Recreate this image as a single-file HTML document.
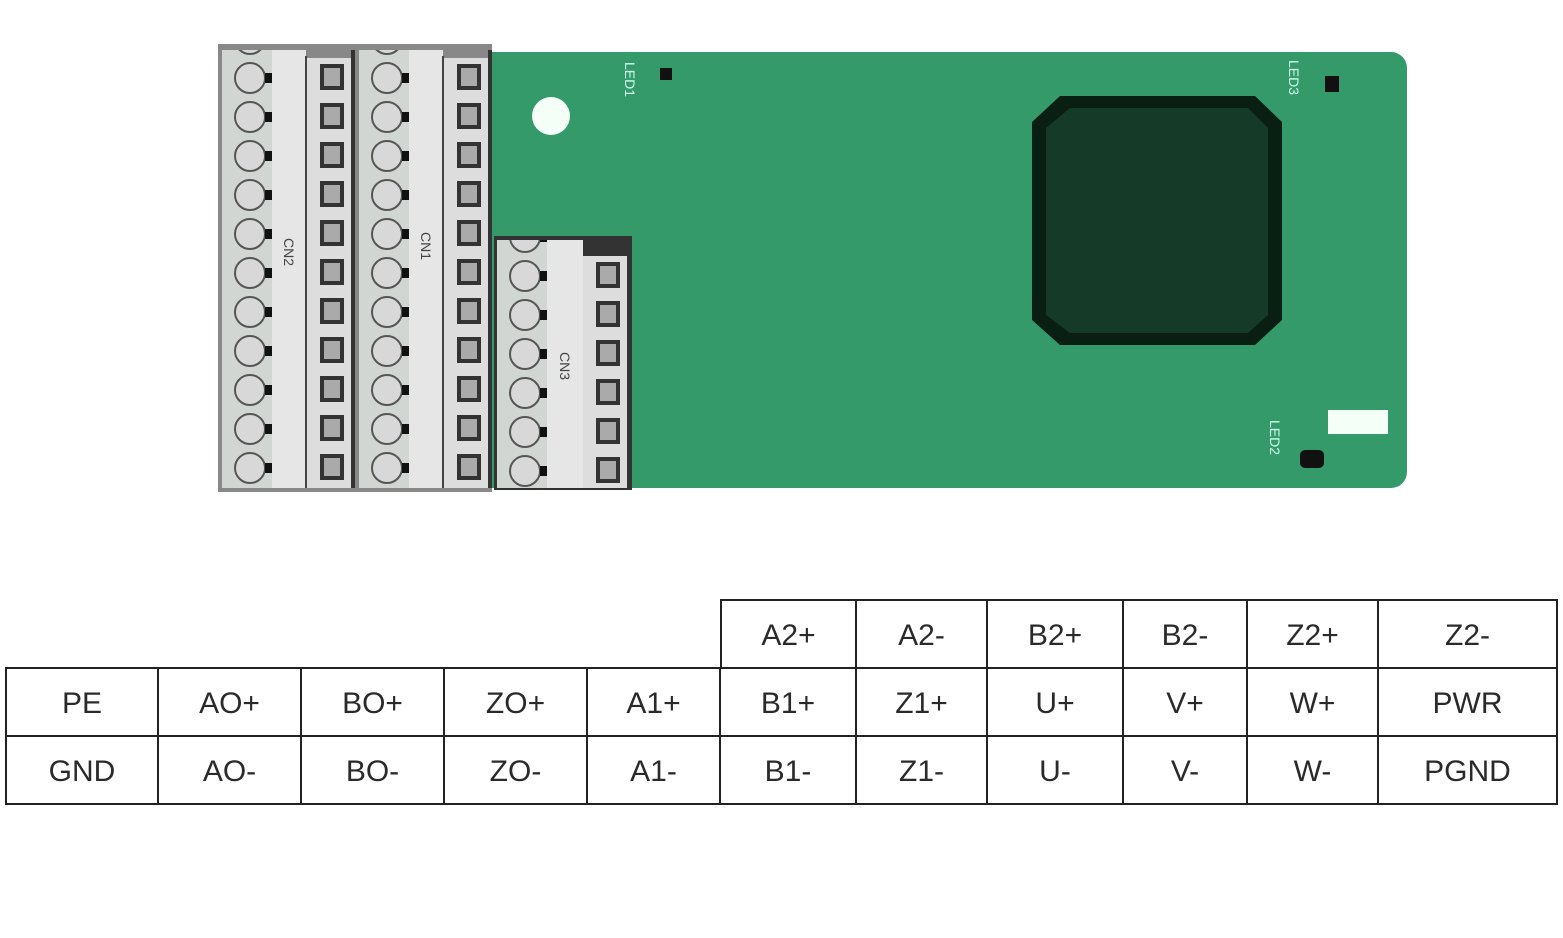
<!DOCTYPE html>
<html><head><meta charset="utf-8"><style>
body{margin:0;background:#fff;width:1563px;height:938px;overflow:hidden;position:relative;font-family:"Liberation Sans",sans-serif}
svg{position:absolute;left:0;top:0}
table{position:absolute;border-collapse:collapse;font-size:30px;color:#2a2a2a}
td{border:2px solid #222;text-align:center;padding:4px 0 0 0;height:62px}
</style></head><body>
<svg width="1563" height="520" viewBox="0 0 1563 520">
<defs>
<pattern id="sq" x="307" y="58" width="44" height="39" patternUnits="userSpaceOnUse">
<rect x="0" y="0" width="44" height="39" fill="#ddd"/>
<rect x="13" y="6" width="24" height="26" fill="#333"/>
<rect x="17" y="10" width="16" height="18" fill="#aaa"/>
</pattern>
<pattern id="ci" x="222" y="58" width="50" height="39" patternUnits="userSpaceOnUse">
<rect width="50" height="39" fill="#d2d6d2"/>
<circle cx="28" cy="20" r="15" fill="#d8d8d8" stroke="#555" stroke-width="2"/>
<rect x="43" y="15" width="7" height="10" fill="#111"/>
</pattern>
<pattern id="sq3" x="583" y="256" width="44" height="39" patternUnits="userSpaceOnUse">
<rect x="0" y="0" width="44" height="39" fill="#ddd"/>
<rect x="13" y="6" width="24" height="26" fill="#333"/>
<rect x="17" y="10" width="16" height="18" fill="#aaa"/>
</pattern>
<pattern id="ci3" x="497" y="256" width="50" height="39" patternUnits="userSpaceOnUse">
<rect width="50" height="39" fill="#d2d6d2"/>
<circle cx="28" cy="20" r="15" fill="#d8d8d8" stroke="#555" stroke-width="2"/>
<rect x="43" y="15" width="7" height="10" fill="#111"/>
</pattern>
</defs>
<rect x="485" y="52" width="922" height="436" rx="16" fill="#359a6a"/>
<rect x="470" y="52" width="40" height="436" fill="#359a6a"/>
<circle cx="551" cy="116" r="19" fill="#f4fff8"/>
<rect x="660" y="68" width="12" height="12" fill="#111"/>
<rect x="1325" y="76" width="14" height="16" fill="#111"/>
<rect x="1300" y="450" width="24" height="18" rx="5" fill="#111"/>
<rect x="1328" y="410" width="60" height="24" fill="#f4fff8"/>
<text transform="translate(625,62) rotate(90)" font-size="14" fill="#cfe">LED1</text>
<text transform="translate(1289,60) rotate(90)" font-size="14" fill="#cfe">LED3</text>
<text transform="translate(1270,420) rotate(90)" font-size="14" fill="#cfe">LED2</text>
<polygon points="1060,96 1255,96 1282,122 1282,320 1255,345 1060,345 1032,320 1032,122" fill="#0a1f14"/>
<polygon points="1070,108 1248,108 1268,128 1268,315 1248,333 1070,333 1046,315 1046,128" fill="#163a28"/>
<rect x="218" y="44" width="274" height="448" fill="#888"/>
<g id="c">
<rect x="222" y="50" width="50" height="438" fill="url(#ci)"/>
<rect x="272" y="50" width="34" height="438" fill="#e6e6e6"/>
<rect x="305" y="56" width="2" height="432" fill="#444"/>
<rect x="307" y="58" width="44" height="430" fill="url(#sq)"/>
<rect x="351" y="50" width="4" height="438" fill="#333"/>
</g>
<use href="#c" x="137"/>
<text transform="translate(284,238) rotate(90)" font-size="14" fill="#444">CN2</text>
<text transform="translate(421,232) rotate(90)" font-size="14" fill="#444">CN1</text>
<rect x="494" y="236" width="138" height="254" fill="#333"/>
<rect x="497" y="240" width="50" height="248" fill="url(#ci3)"/>
<rect x="547" y="240" width="36" height="248" fill="#e6e6e6"/>
<rect x="583" y="256" width="44" height="232" fill="url(#sq3)"/>
<text transform="translate(560,352) rotate(90)" font-size="14" fill="#444">CN3</text>
</svg>
<table style="left:720px;top:599px;width:838px">
<tr><td style="width:133px">A2+</td><td style="width:129px">A2-</td><td style="width:134px">B2+</td><td style="width:122px">B2-</td><td style="width:129px">Z2+</td><td>Z2-</td></tr>
</table>
<table style="left:5px;top:667px;width:1553px">
<tr><td style="width:150px">PE</td><td style="width:141px">AO+</td><td style="width:141px">BO+</td><td style="width:141px">ZO+</td><td style="width:131px">A1+</td><td style="width:134px">B1+</td><td style="width:129px">Z1+</td><td style="width:134px">U+</td><td style="width:122px">V+</td><td style="width:129px">W+</td><td>PWR</td></tr>
<tr><td>GND</td><td>AO-</td><td>BO-</td><td>ZO-</td><td>A1-</td><td>B1-</td><td>Z1-</td><td>U-</td><td>V-</td><td>W-</td><td>PGND</td></tr>
</table>
</body></html>
